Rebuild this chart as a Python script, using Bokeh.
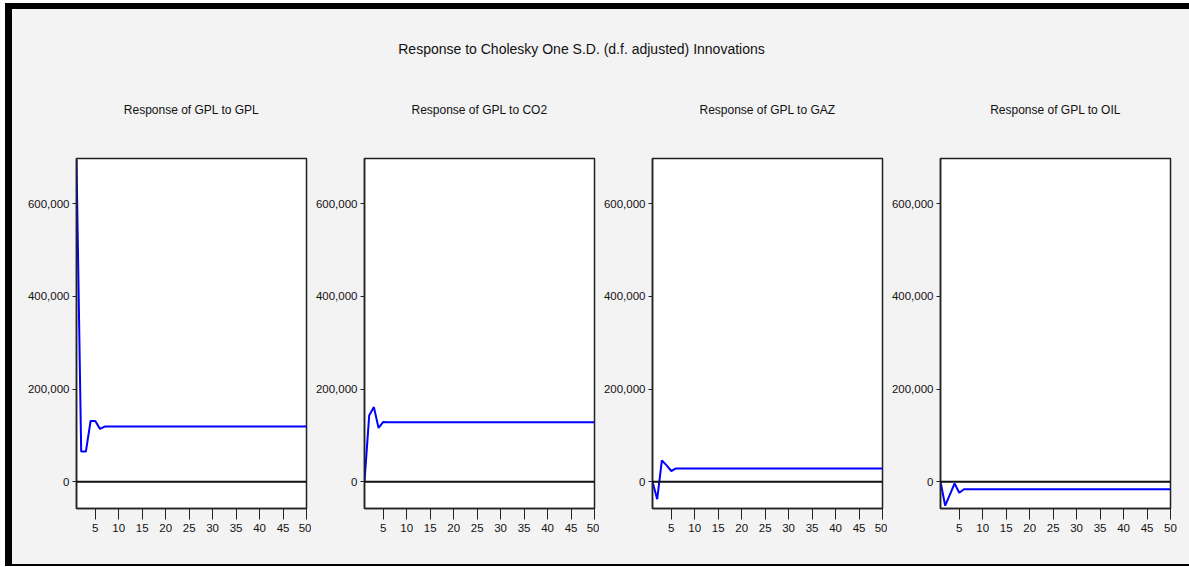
from bokeh.plotting import figure
from bokeh.layouts import row, column
from bokeh.models import Range1d, FixedTicker, NumeralTickFormatter, Span, Spacer
from bokeh.core.properties import value
from bokeh.embed import file_html
from bokeh.resources import INLINE

# ---------------- data ----------------
periods = list(range(1, 51))

resp_gpl = [695000, 65000, 65000, 131000, 131000, 114000, 119000, 119000, 119000, 119000,
            119000, 119000, 119000, 119000, 119000, 119000, 119000, 119000, 119000, 119000,
            119000, 119000, 119000, 119000, 119000, 119000, 119000, 119000, 119000, 119000,
            119000, 119000, 119000, 119000, 119000, 119000, 119000, 119000, 119000, 119000,
            119000, 119000, 119000, 119000, 119000, 119000, 119000, 119000, 119000, 119000]

resp_co2 = [0, 143000, 161000, 116000, 129000, 128500, 128500, 128500, 128500, 128500,
            128500, 128500, 128500, 128500, 128500, 128500, 128500, 128500, 128500, 128500,
            128500, 128500, 128500, 128500, 128500, 128500, 128500, 128500, 128500, 128500,
            128500, 128500, 128500, 128500, 128500, 128500, 128500, 128500, 128500, 128500,
            128500, 128500, 128500, 128500, 128500, 128500, 128500, 128500, 128500, 128500]

resp_gaz = [0, -38000, 46000, 35000, 23000, 28500, 28500, 28500, 28500, 28500,
            28500, 28500, 28500, 28500, 28500, 28500, 28500, 28500, 28500, 28500,
            28500, 28500, 28500, 28500, 28500, 28500, 28500, 28500, 28500, 28500,
            28500, 28500, 28500, 28500, 28500, 28500, 28500, 28500, 28500, 28500,
            28500, 28500, 28500, 28500, 28500, 28500, 28500, 28500, 28500, 28500]

resp_oil = [0, -52000, -28000, -4000, -24000, -16500, -16500, -16500, -16500, -16500,
            -16500, -16500, -16500, -16500, -16500, -16500, -16500, -16500, -16500, -16500,
            -16500, -16500, -16500, -16500, -16500, -16500, -16500, -16500, -16500, -16500,
            -16500, -16500, -16500, -16500, -16500, -16500, -16500, -16500, -16500, -16500,
            -16500, -16500, -16500, -16500, -16500, -16500, -16500, -16500, -16500, -16500]

series = [resp_gpl, resp_co2, resp_gaz, resp_oil]
panel_titles = ["Response of GPL to GPL", "Response of GPL to CO2",
                "Response of GPL to GAZ", "Response of GPL to OIL"]
main_title = "Response to Cholesky One S.D. (d.f. adjusted) Innovations"
x_ticks = [5, 10, 15, 20, 25, 30, 35, 40, 45, 50]
y_ticks = [0, 200000, 400000, 600000]

# ---------------- style / layout ----------------
BG = "#f3f3f3"
FONT = "Liberation Sans"
TXT = "#111111"
CONTENT_W = 1177
HEADER_H = 131
PANEL_H = 424
FRAME_W = 230
lefts = [64, 53, 53, 53]
rights = [5, 5, 5, 19]


def block(w, h, color):
    return Spacer(width=w, height=h, styles={"background-color": color})


header = figure(width=CONTENT_W, height=HEADER_H, toolbar_location=None,
                output_backend="svg", min_border=0, x_axis_type=None,
                y_axis_type=None, x_range=Range1d(0, CONTENT_W),
                y_range=Range1d(HEADER_H, 0), border_fill_color=BG,
                background_fill_color=BG, outline_line_color=None)
header.grid.visible = False
header.text(x=[569], y=[39], text=[main_title], text_font=value(FONT),
            text_font_size="14px", text_color=TXT, text_align="center",
            text_baseline="middle")

# subtitle centres follow the panel frames
centres = []
acc = 0
for i in range(4):
    centres.append(acc + lefts[i] + FRAME_W / 2)
    acc += lefts[i] + FRAME_W + rights[i]
header.text(x=centres, y=[100] * 4, text=panel_titles, text_font=value(FONT),
            text_font_size="12px", text_color=TXT, text_align="center",
            text_baseline="middle")

panels = []
for i in range(4):
    p = figure(width=lefts[i] + FRAME_W + rights[i], height=PANEL_H,
               toolbar_location=None, output_backend="svg",
               x_range=Range1d(1, 50), y_range=Range1d(-58000, 698000),
               min_border_left=lefts[i], min_border_right=rights[i],
               min_border_top=18, min_border_bottom=56,
               border_fill_color=BG, background_fill_color="white",
               outline_line_color="#222", outline_line_width=1.5)
    p.grid.visible = False
    p.add_layout(Span(location=0, dimension="width", line_color="#111",
                      line_width=2))
    p.line(periods, series[i], line_color="#0000ff", line_width=2)

    p.xaxis.ticker = FixedTicker(ticks=x_ticks)
    p.yaxis.ticker = FixedTicker(ticks=y_ticks)
    p.yaxis.formatter = NumeralTickFormatter(format="0,0")
    for ax in (p.xaxis, p.yaxis):
        ax.axis_line_color = "#222"
        ax.axis_line_width = 1.5
        ax.major_tick_line_color = "#222"
        ax.major_tick_in = 0
        ax.minor_tick_line_color = None
        ax.major_label_text_font = FONT
        ax.major_label_text_font_size = "11.5px"
        ax.major_label_text_color = TXT
    p.xaxis.major_tick_out = 11
    p.xaxis.major_label_standoff = 4
    p.yaxis.major_tick_out = 4
    p.yaxis.major_label_standoff = 3
    panels.append(p)

panel_row = row(*panels, styles={"background-color": BG})
content = column(header, panel_row, block(CONTENT_W, 2, "black"),
                 styles={"background-color": BG})
body = row(block(7, HEADER_H + PANEL_H + 2, "black"), content)
right_part = column(block(1184, 3, "white"), block(1184, 6, "black"), body)
layout = row(block(5, 566, "white"), right_part)

open("out.html", "w").write(file_html(layout, INLINE))
